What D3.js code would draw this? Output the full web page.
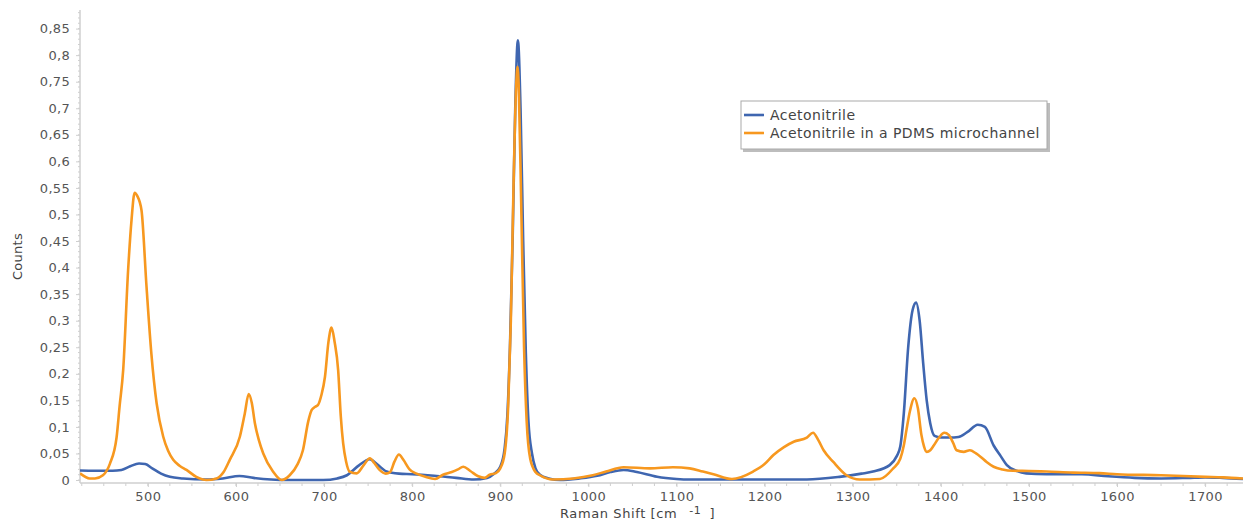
<!DOCTYPE html>
<html>
<head>
<meta charset="utf-8">
<script src="https://cdn.jsdelivr.net/npm/d3@7"></script>
<style>
  html, body { margin: 0; padding: 0; background: #fff; }
  svg { display: block; font-family: "DejaVu Sans", Verdana, sans-serif; }
</style>
</head>
<body>
<svg id="chart" width="1243" height="522"></svg>
<script>
// Raman spectra: pure acetonitrile vs. acetonitrile inside a PDMS microchannel
const seriesNames = ["Acetonitrile", "Acetonitrile in a PDMS microchannel"];
const seriesColors = ["#3f66b0", "#f7981f"];

const blueShift = [423, 440, 460, 470, 480, 490, 497, 505, 515, 525, 540, 566, 585, 604, 620, 640, 660, 699, 715, 726,
  740, 752, 760, 771, 785, 800, 825, 850, 870, 885, 893, 900, 905, 908, 911, 914, 917, 920, 923, 926,
  929, 932, 936, 940, 945, 955, 968, 990, 1010, 1025, 1040, 1055, 1078, 1100, 1115, 1248, 1285, 1310, 1323, 1342,
  1350, 1354, 1358, 1363, 1368, 1372, 1376, 1380, 1384, 1388, 1393, 1400, 1410, 1420, 1430, 1442, 1450, 1460, 1468, 1475,
  1485, 1497, 1520, 1560, 1590, 1620, 1650, 1680, 1700, 1720, 1743];
const blueCounts = [0.018, 0.0175, 0.0175, 0.019, 0.026, 0.031, 0.030, 0.022, 0.012, 0.006, 0.003, 0.001, 0.003, 0.0075, 0.004, 0.001, 0.0, 0.0, 0.003, 0.009,
  0.028, 0.039, 0.030, 0.016, 0.012, 0.011, 0.008, 0.004, 0.001, 0.004, 0.012, 0.025, 0.06, 0.12, 0.25, 0.45, 0.70, 0.828, 0.70, 0.45,
  0.24, 0.11, 0.05, 0.022, 0.01, 0.003, 0.0, 0.003, 0.008, 0.015, 0.019, 0.015, 0.006, 0.002, 0.001, 0.001, 0.006, 0.012, 0.016, 0.028,
  0.045, 0.063, 0.125, 0.25, 0.32, 0.334, 0.30, 0.22, 0.15, 0.107, 0.083, 0.080, 0.080, 0.081, 0.090, 0.104, 0.100, 0.065, 0.045, 0.028,
  0.018, 0.0125, 0.011, 0.011, 0.007, 0.004, 0.003, 0.004, 0.005, 0.004, 0.002];

const orangeShift = [423, 434, 440, 449, 457, 464.5, 468, 472, 477.6, 481.5, 485, 488, 492.8, 498.5, 504, 510, 517.4, 523, 528.8, 536,
  543.9, 555, 566.6, 578, 586, 593, 604.5, 610, 614.5, 618, 621.5, 626, 631, 642, 652, 661, 670, 676, 682, 686,
  690, 693, 697, 701, 705, 708.5, 712, 716, 719, 721.7, 725, 729, 737, 745, 752, 757, 763, 770, 775, 780,
  785, 790, 797, 805, 815, 826, 835, 845, 852, 858, 866, 875, 882, 888, 895, 900, 905, 909, 912, 915,
  918, 919.5, 921, 924, 927, 930, 934, 940, 945, 960, 983, 1005, 1020, 1040, 1070, 1096, 1115, 1130, 1142, 1163,
  1187, 1200, 1210, 1222, 1233, 1248, 1255, 1261, 1267, 1278, 1293, 1308, 1331, 1346, 1354, 1358, 1361, 1365, 1370, 1374,
  1378, 1381, 1384, 1388, 1392, 1398, 1404, 1409, 1414, 1418, 1426, 1433, 1440, 1445, 1452, 1460, 1470, 1482, 1500, 1520,
  1550, 1580, 1600, 1650, 1700, 1720, 1743];
const orangeCounts = [0.0125, 0.003, 0.003, 0.009, 0.031, 0.08, 0.14, 0.207, 0.395, 0.49, 0.541, 0.535, 0.508, 0.364, 0.238, 0.144, 0.082, 0.055, 0.038, 0.027,
  0.019, 0.006, 0.0, 0.003, 0.015, 0.038, 0.082, 0.125, 0.162, 0.145, 0.107, 0.075, 0.05, 0.016, 0.0, 0.009, 0.03, 0.056, 0.11, 0.132,
  0.138, 0.141, 0.16, 0.194, 0.26, 0.287, 0.26, 0.207, 0.12, 0.069, 0.035, 0.016, 0.0125, 0.028, 0.041, 0.032, 0.019, 0.012, 0.015, 0.035,
  0.048, 0.038, 0.02, 0.012, 0.006, 0.002, 0.01, 0.015, 0.02, 0.025, 0.017, 0.007, 0.004, 0.01, 0.013, 0.022, 0.05, 0.14, 0.30, 0.55,
  0.74, 0.778, 0.74, 0.50, 0.25, 0.11, 0.04, 0.015, 0.009, 0.001, 0.003, 0.009, 0.016, 0.024, 0.022, 0.024, 0.022, 0.016, 0.011, 0.002,
  0.016, 0.03, 0.047, 0.062, 0.072, 0.08, 0.089, 0.075, 0.056, 0.034, 0.009, 0.001, 0.002, 0.022, 0.04, 0.065, 0.094, 0.13, 0.154, 0.135,
  0.085, 0.063, 0.053, 0.056, 0.065, 0.08, 0.089, 0.085, 0.07, 0.056, 0.053, 0.056, 0.05, 0.044, 0.034, 0.025, 0.02, 0.0175, 0.017, 0.016,
  0.014, 0.013, 0.011, 0.009, 0.006, 0.005, 0.003];

const xTickValues = [500, 600, 700, 800, 900, 1000, 1100, 1200, 1300, 1400, 1500, 1600, 1700];
const yTickValues = [0, 0.05, 0.1, 0.15, 0.2, 0.25, 0.3, 0.35, 0.4, 0.45, 0.5, 0.55, 0.6, 0.65, 0.7, 0.75, 0.8, 0.85];

const plot = { left: 80, right: 1243, top: 10, bottom: 483 };

const svg = d3.select("#chart");

const x = d3.scaleLinear().domain([423, 1743]).range([plot.left, plot.right]);
const y = d3.scaleLinear().domain([-0.0056, 0.885]).range([plot.bottom, plot.top]);

const fmt = v => d3.format(".2~f")(v).replace(".", ",");

// minor ticks
const yMinor = d3.range(0, 0.885, 0.01).map(v => +v.toFixed(2));
const xMinor = d3.range(425, 1743, 25);

const axisColor = "#cfcfcf";
const labelColor = "#555";
const fontStack = "'DejaVu Sans', Verdana, sans-serif";

// y axis
const yAxisG = svg.append("g").attr("transform", `translate(${plot.left},0)`);
yAxisG.append("line").attr("x1", 0).attr("x2", 0).attr("y1", plot.top).attr("y2", plot.bottom)
  .attr("stroke", axisColor).attr("stroke-width", 1.5);
yAxisG.selectAll("line.minor").data(yMinor).join("line").attr("class", "minor")
  .attr("x1", -2).attr("x2", 0).attr("y1", d => y(d)).attr("y2", d => y(d))
  .attr("stroke", axisColor);
yAxisG.call(d3.axisLeft(y).tickValues(yTickValues).tickFormat(fmt).tickSize(4).tickPadding(6))
  .call(g => g.select(".domain").remove())
  .call(g => g.selectAll(".tick line").attr("stroke", axisColor))
  .call(g => g.selectAll(".tick text").attr("fill", labelColor).attr("font-size", 13)
    .attr("letter-spacing", 0.3).attr("font-family", fontStack));

// x axis
const xAxisG = svg.append("g").attr("transform", `translate(0,${plot.bottom})`);
xAxisG.append("line").attr("x1", plot.left).attr("x2", plot.right).attr("y1", 0).attr("y2", 0)
  .attr("stroke", axisColor).attr("stroke-width", 1.5);
xAxisG.selectAll("line.minor").data(xMinor).join("line").attr("class", "minor")
  .attr("x1", d => x(d)).attr("x2", d => x(d)).attr("y1", 0).attr("y2", 3)
  .attr("stroke", axisColor);
xAxisG.call(d3.axisBottom(x).tickValues(xTickValues).tickFormat(d3.format("d")).tickSize(4).tickPadding(5))
  .call(g => g.select(".domain").remove())
  .call(g => g.selectAll(".tick line").attr("stroke", axisColor))
  .call(g => g.selectAll(".tick text").attr("fill", labelColor).attr("font-size", 13)
    .attr("letter-spacing", 0.4).attr("font-family", fontStack));

// axis titles
svg.append("text")
  .attr("transform", `translate(22,${(plot.top + plot.bottom) / 2 + 10}) rotate(-90)`)
  .attr("text-anchor", "middle").attr("fill", "#444").attr("font-size", 13)
  .attr("letter-spacing", 0.3)
  .text("Counts");

const xTitle = svg.append("text").attr("x", 560).attr("y", 518)
  .attr("fill", "#444").attr("font-size", 13).attr("letter-spacing", 0.6);
xTitle.append("tspan").text("Raman Shift [cm");
xTitle.append("tspan").attr("dx", 12).attr("dy", -4).attr("font-size", 11).text("-1");
xTitle.append("tspan").attr("dx", 8).attr("dy", 4).text("]");

// spectra
svg.append("clipPath").attr("id", "plotClip").append("rect")
  .attr("x", plot.left).attr("y", plot.top - 5)
  .attr("width", plot.right - plot.left).attr("height", plot.bottom - plot.top + 5);

const line = d3.line().x(d => x(d[0])).y(d => y(d[1])).curve(d3.curveMonotoneX);
const series = [
  d3.zip(blueShift, blueCounts),
  d3.zip(orangeShift, orangeCounts)
];

const linesG = svg.append("g").attr("clip-path", "url(#plotClip)");
linesG.selectAll("path").data(series).join("path")
  .attr("d", line)
  .attr("fill", "none")
  .attr("stroke", (d, i) => seriesColors[i])
  .attr("stroke-width", 2.6)
  .attr("stroke-linejoin", "round");

// legend
const lg = svg.append("g").attr("transform", "translate(741,101)");
lg.append("rect").attr("x", 2).attr("y", 2).attr("width", 307).attr("height", 49).attr("fill", "#bdbdbd");
lg.append("rect").attr("x", 0).attr("y", 0).attr("width", 306).attr("height", 48)
  .attr("fill", "#fff").attr("stroke", "#a9a9a9");
seriesNames.forEach((name, i) => {
  const yy = 14 + i * 18;
  lg.append("line").attr("x1", 3).attr("x2", 23).attr("y1", yy).attr("y2", yy)
    .attr("stroke", seriesColors[i]).attr("stroke-width", 2.6);
  lg.append("text").attr("x", 29).attr("y", yy + 5).attr("fill", "#444").attr("font-size", 14)
    .attr("letter-spacing", 0.45)
    .text(name);
});
</script>
</body>
</html>
